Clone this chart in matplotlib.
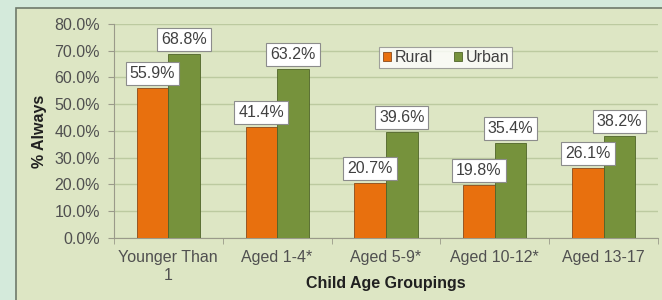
import numpy as np
import matplotlib.pyplot as plt
from matplotlib.patches import Rectangle

# データ
groups = ['Younger Than\n1', 'Aged 1-4*', 'Aged 5-9*', 'Aged 10-12*', 'Aged 13-17']
rural = [55.9, 41.4, 20.7, 19.8, 26.1]
urban = [68.8, 63.2, 39.6, 35.4, 38.2]
yticks = [0, 10, 20, 30, 40, 50, 60, 70, 80]

plt.rcParams['font.family'] = ['Liberation Sans', 'DejaVu Sans']
fs = 11.5

fig = plt.figure(figsize=(6.62, 3.0), dpi=100, facecolor='#d4eadb')

# 内側のパネル
fig.patches.append(Rectangle((16 / 662, -0.1), 1.0, 1.1 - 8 / 300, transform=fig.transFigure,
                             facecolor='#dde6c4', edgecolor='#6f7a6a', linewidth=1.2, zorder=-10))

ax = fig.add_axes([0.172, 0.207, 0.822, 0.713])
ax.set_facecolor('none')

x = np.arange(len(groups))
w = 0.29
b1 = ax.bar(x - w / 2, rural, w, color='#e8700e', edgecolor='#8a4a1a', linewidth=0.6, label='Rural', zorder=3)
b2 = ax.bar(x + w / 2, urban, w, color='#76923c', edgecolor='#4f6428', linewidth=0.6, label='Urban', zorder=3)

for bars in (b1, b2):
    for r in bars:
        ax.annotate(f'{r.get_height():.1f}%', (r.get_x() + r.get_width() / 2, r.get_height()),
                    xytext=(0, 5), textcoords='offset points', ha='center', va='bottom',
                    fontsize=fs, color='#404040', zorder=5,
                    bbox=dict(boxstyle='square,pad=0.25', facecolor='white', edgecolor='#8c8c8c', linewidth=0.8))

ax.set_ylim(0, 80)
ax.set_yticks(yticks)
ax.set_yticklabels([f'{v:.1f}%' for v in yticks], fontsize=fs, color='#505050')
ax.set_xlim(-0.5, len(groups) - 0.5)
ax.set_xticks(x)
ax.set_xticklabels(groups, fontsize=fs, color='#505050', linespacing=1.2)
ax.set_xticks(np.arange(-0.5, len(groups)), minor=True)
ax.tick_params(axis='x', which='major', length=0, pad=9)
ax.tick_params(axis='x', which='minor', length=4, color='#9a9a8a')
ax.tick_params(axis='y', length=4, color='#9a9a8a', pad=6)

ax.grid(axis='y', color='#bccaa0', linewidth=1.0, zorder=0)
for s in ['top', 'right']:
    ax.spines[s].set_visible(False)
ax.spines['left'].set_color('#9a9a8a')
ax.spines['bottom'].set_color('#9a9a8a')

ax.set_xlabel('Child Age Groupings', fontsize=fs, fontweight='bold', color='#202020')
ax.xaxis.set_label_coords(0.5, -0.18)
ax.set_ylabel('% Always', fontsize=fs, fontweight='bold', color='#202020', labelpad=5)

leg = ax.legend(loc='upper left', bbox_to_anchor=(0.488, 0.893), ncol=2, fontsize=fs,
                frameon=True, fancybox=False, edgecolor='#8c8c8c', handlelength=0.55, handleheight=0.55,
                handletextpad=0.2, columnspacing=1.3, borderpad=0.2, borderaxespad=0)
leg.get_frame().set_linewidth(0.8)
for t in leg.get_texts():
    t.set_color('#404040')

fig.savefig('out.png', dpi=100, facecolor=fig.get_facecolor())
